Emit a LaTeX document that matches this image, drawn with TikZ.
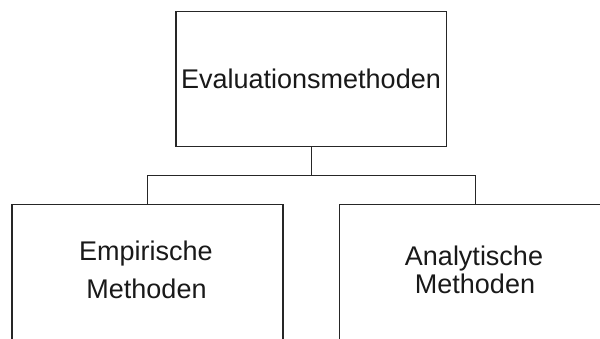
\documentclass[tikz,border=0pt]{standalone}
\usepackage{fontspec}
\setmainfont{Liberation Sans}
\begin{document}
\begin{tikzpicture}[x=1pt,y=-1pt,
  box/.style={draw=black!85,line width=1.3pt,rectangle,inner sep=0pt,fill=white},
  conn/.style={draw=black!85,line width=1.3pt},
  lbl/.style={inner sep=0pt,anchor=base,font=\fontsize{27}{32}\selectfont,text=black!90}]
\useasboundingbox (0,0) rectangle (600,338);
\clip (0,0) rectangle (600,338);
\fill[white] (0,0) rectangle (600,338);
\node[box,minimum width=270.7pt,minimum height=135pt] (top) at (311.3,79.2) {};
\node[box,minimum width=271pt,minimum height=160pt] (left) at (147.5,284.3) {};
\node[box,minimum width=272pt,minimum height=160pt] (right) at (475.7,284.3) {};
\coordinate (bus) at (0,175.3);
\draw[conn] (top.south) -- (top.south |- bus);
\draw[conn] (left.north) -- (left.north |- bus) -- (right.north |- bus) -- (right.north);
\node[lbl] (ttop) at (311,88) {Evaluationsmethoden};
\node[lbl] (tl1) at (146,260) {Empirische};
\node[lbl] (tl2) at (146.5,298.3) {Methoden};
\node[lbl] (tr1) at (474,265) {Analytische};
\node[lbl] (tr2) at (475,293.3) {Methoden};
\end{tikzpicture}
\end{document}
